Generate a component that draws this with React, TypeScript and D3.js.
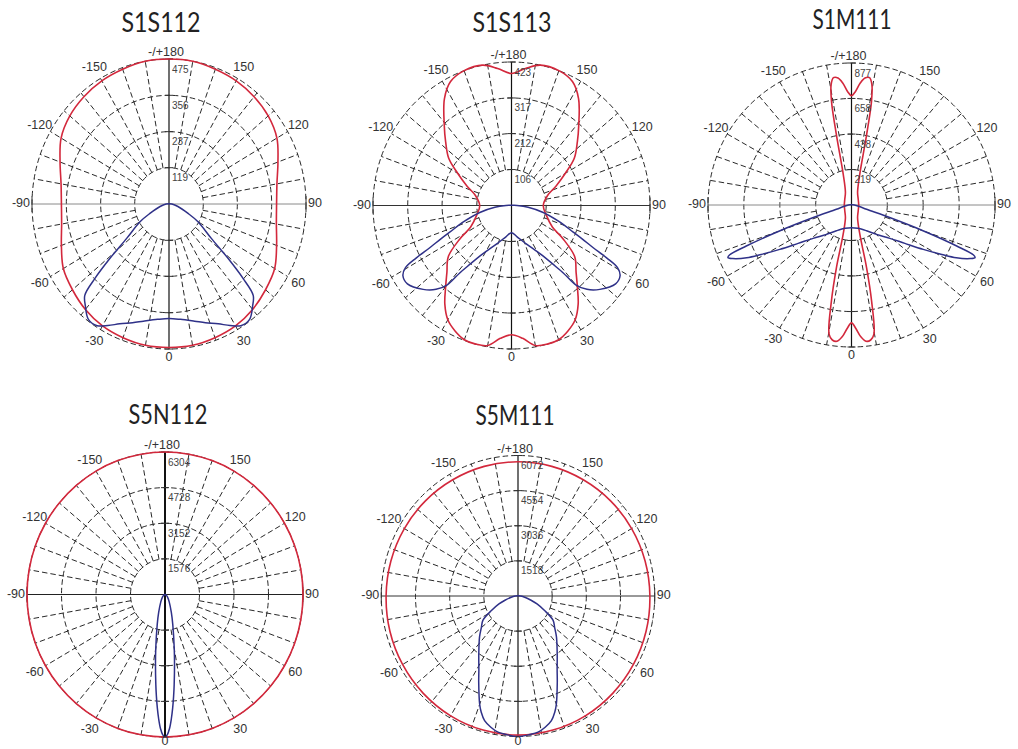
import React from 'react';
import * as d3 from 'd3';

// ---------------- DATA ----------------
// Angle labels (C-plane angle, 0 at bottom, +90 on the right)
const angleLabelValues = [0, 30, 60, 90, 120, 150, 180, -150, -120, -90, -60, -30];
const angleLabelTexts = ['0', '30', '60', '90', '120', '150', '-/+180', '-150', '-120', '-90', '-60', '-30'];

// S1S112
const s1s112Title = 'S1S112';
const s1s112Rings = [119, 237, 356, 475];
const s1s112RedAngles = [0, 10, 20, 30, 40, 50, 60, 70, 80, 90, 100, 110, 120, 130, 140, 150, 160, 170, 180];
const s1s112Red = [470, 470, 466, 461, 451, 437, 423, 397, 378, 373, 380, 402, 432, 449, 459, 466, 470, 475, 475];
const s1s112BlueAngles = [0, 6, 13, 18, 23.5, 28, 32, 36.5, 41, 44.3, 46.5, 49, 52.5, 60, 65, 75, 90, 120, 150, 180];
const s1s112Blue = [375, 380, 394, 409, 428, 451, 470, 470, 442, 418, 354, 271, 185, 116, 73, 32, 10, 2, 1, 1];

// S1S113
const s1s113Title = 'S1S113';
const s1s113Rings = [106, 212, 317, 423];
const s1s113RedAngles = [0, 5, 10, 15, 20, 25, 30, 35, 40, 45, 52, 58, 63, 75, 90, 105, 113, 120, 126, 133, 139, 147, 153, 160, 168, 174, 180];
const s1s113Red = [381, 393, 419, 423, 421, 408, 389, 355, 313, 279, 245, 186, 140, 110, 97, 114, 148, 190, 237, 275, 313, 376, 410, 423, 423, 406, 389];
const s1s113BlueAngles = [0, 10, 22, 30, 33, 36, 38.5, 40, 43, 47.5, 54, 58, 60.5, 62, 63.5, 65.5, 67.5, 72, 78, 84, 90, 100, 120, 180];
const s1s113Blue = [80, 93, 123, 157, 178, 212, 254, 305, 338, 366, 393, 391, 372, 330, 279, 237, 203, 152, 99, 51, 17, 4, 2, 1];

// S1M111
const s1m111Title = 'S1M111';
const s1m111Rings = [219, 438, 658, 877];
const s1m111RedAngles = [0, 2, 4, 6, 8, 9.7, 11.7, 13.4, 15.7, 25, 48, 90, 132, 155, 165, 168, 169.2, 170.5, 172, 174, 176, 178, 180];
const s1m111Red = [728, 763, 816, 846, 842, 811, 605, 397, 189, 88, 55, 44, 55, 88, 193, 447, 653, 754, 794, 789, 754, 702, 675];
const s1m111BlueAngles = [0, 15, 30, 40, 48.7, 54, 58, 61, 63, 65.5, 66.7, 67.5, 68.5, 70, 71.6, 74, 80, 90, 120, 180];
const s1m111Blue = [140, 149, 184, 237, 312, 403, 517, 631, 719, 798, 822, 807, 691, 465, 246, 96, 44, 18, 4, 3];

// S5N112
const s5n112Title = 'S5N112';
const s5n112Rings = [1576, 3152, 4728, 6304];
const s5n112RedAngles = [0, 10, 20, 30, 40, 50, 60, 70, 80, 90, 100, 110, 120, 130, 140, 150, 160, 170, 180];
const s5n112Red = [6304, 6304, 6304, 6304, 6304, 6304, 6304, 6304, 6304, 6304, 6304, 6304, 6304, 6304, 6304, 6304, 6304, 6304, 6304];
const s5n112BlueAngles = [0, 1, 2, 3, 4, 5, 6, 8, 10, 15, 20, 30, 45, 60, 90, 120, 180];
const s5n112Blue = [6304, 6200, 5930, 5515, 5030, 4515, 4010, 3125, 2435, 1370, 845, 390, 165, 80, 5, 2, 1];

// S5M111
const s5m111Title = 'S5M111';
const s5m111Rings = [1518, 3036, 4554, 6072];
const s5m111RedAngles = [0, 15, 30, 45, 60, 75, 90, 105, 120, 135, 150, 165, 180];
const s5m111Red = [6011, 6000, 5981, 5950, 5920, 5890, 5859, 5845, 5829, 5815, 5799, 5799, 5799];
const s5m111BlueAngles = [0, 5, 8.6, 12, 15.4, 18, 20, 25, 28.5, 35, 44, 50, 56, 62, 68, 72.5, 80, 90, 120, 180];
const s5m111Blue = [6072, 6011, 5951, 5799, 5586, 5283, 4979, 4129, 3643, 3036, 2459, 2125, 1882, 1336, 911, 607, 304, 121, 30, 18];

// ---------------- LAYOUT ----------------
const W = 1018;
const H = 749;
const RED = '#d3283c';
const BLUE = '#2f3188';

type Pt = [number, number];

// symmetric photometric curve: data given for 0..180, mirrored to the negative side
function mirror(angles: number[], values: number[]): Pt[] {
  const pts: Pt[] = angles.map((a, i) => [a, values[i]] as Pt);
  for (let i = angles.length - 1; i >= 0; i--) {
    const a = angles[i];
    if (a > 0 && a < 180) pts.push([-a, values[i]]);
  }
  return pts;
}

const panels = [
  { title: s1s112Title, rings: s1s112Rings, red: mirror(s1s112RedAngles, s1s112Red), blue: mirror(s1s112BlueAngles, s1s112Blue) },
  { title: s1s113Title, rings: s1s113Rings, red: mirror(s1s113RedAngles, s1s113Red), blue: mirror(s1s113BlueAngles, s1s113Blue) },
  { title: s1m111Title, rings: s1m111Rings, red: mirror(s1m111RedAngles, s1m111Red), blue: mirror(s1m111BlueAngles, s1m111Blue) },
  { title: s5n112Title, rings: s5n112Rings, red: mirror(s5n112RedAngles, s5n112Red), blue: mirror(s5n112BlueAngles, s5n112Blue) },
  { title: s5m111Title, rings: s5m111Rings, red: mirror(s5m111RedAngles, s5m111Red), blue: mirror(s5m111BlueAngles, s5m111Blue) },
];

const layouts = [
  { cx: 169, cy: 204, rx: 137, ry: 145, tx: 161, ty: 21, axisW: 1.2, hColor: '#8a8a8a' },
  { cx: 511.5, cy: 205.5, rx: 138.5, ry: 143.5, tx: 512, ty: 21, axisW: 1.2, hColor: '#333' },
  { cx: 851.5, cy: 205, rx: 143.5, ry: 142, tx: 852, ty: 18, axisW: 1.2, hColor: '#8a8a8a' },
  { cx: 165, cy: 594.5, rx: 138, ry: 142.5, tx: 168, ty: 413, axisW: 2, hColor: '#222' },
  { cx: 518, cy: 596, rx: 136.7, ry: 140.5, tx: 515, ty: 414, axisW: 1.2, hColor: '#333' },
];

const rad = (a: number) => (a * Math.PI) / 180;

function Panel({ p, l }: { p: typeof panels[number]; l: typeof layouts[number] }) {
  const max = p.rings[p.rings.length - 1];
  const xs = d3.scaleLinear().domain([0, max]).range([0, l.rx]);
  const ys = d3.scaleLinear().domain([0, max]).range([0, l.ry]);
  const px = (a: number, v: number) => l.cx + xs(v) * Math.sin(rad(a));
  const py = (a: number, v: number) => l.cy + ys(v) * Math.cos(rad(a));
  const line = d3
    .line<Pt>()
    .x((d) => px(d[0], d[1]))
    .y((d) => py(d[0], d[1]))
    .curve(d3.curveCatmullRomClosed.alpha(0.5));
  const spokes = d3.range(-170, 180, 10).filter((a) => a % 90 !== 0);
  const inner = p.rings[0];
  const dash = '5.5,3';
  return (
    <g>
      <text x={l.tx} y={l.ty} textAnchor="middle" dominantBaseline="central"
        textLength={79} lengthAdjust="spacingAndGlyphs"
        style={{ fontFamily: 'Lato, "Open Sans", sans-serif', fontSize: 27, fill: '#222' }}>
        {p.title}
      </text>
      {/* rings */}
      {p.rings.map((r, i) => (
        <ellipse key={'r' + i} cx={l.cx} cy={l.cy} rx={xs(r)} ry={ys(r)} fill="none"
          stroke="#111" strokeWidth={0.9} strokeDasharray={dash} />
      ))}
      {/* spokes */}
      {spokes.map((a) => (
        <line key={'s' + a} x1={px(a, inner)} y1={py(a, inner)} x2={px(a, max)} y2={py(a, max)}
          stroke="#111" strokeWidth={0.9} strokeDasharray={dash} />
      ))}
      {/* axes */}
      <line x1={l.cx - l.rx} x2={l.cx + l.rx} y1={l.cy} y2={l.cy} stroke={l.hColor} strokeWidth={1} />
      <line x1={l.cx} x2={l.cx} y1={l.cy - l.ry} y2={l.cy + l.ry} stroke="#111" strokeWidth={l.axisW} />
      <line x1={l.cx - l.rx} x2={l.cx - l.rx} y1={l.cy - 8} y2={l.cy + 8} stroke="#333" strokeWidth={1} />
      <line x1={l.cx + l.rx} x2={l.cx + l.rx} y1={l.cy - 8} y2={l.cy + 8} stroke="#333" strokeWidth={1} />
      {p.rings.map((r, i) => (
        <g key={'t' + i}>
          <line x1={l.cx - 4} x2={l.cx + 4} y1={l.cy - ys(r)} y2={l.cy - ys(r)} stroke="#333" strokeWidth={1} />
          <line x1={l.cx - 4} x2={l.cx + 4} y1={l.cy + ys(r)} y2={l.cy + ys(r)} stroke="#333" strokeWidth={1} />
        </g>
      ))}
      {/* curves */}
      <path d={line(p.red) || ''} fill="none" stroke={RED} strokeWidth={1.6} />
      <path d={line(p.blue) || ''} fill="none" stroke={BLUE} strokeWidth={1.5} />
      {/* ring value labels */}
      {p.rings.map((r, i) => (
        <text key={'v' + i} x={l.cx + 3} y={l.cy - ys(r) + 10} dominantBaseline="central"
          style={{ fontFamily: '"Liberation Sans", Arial, sans-serif', fontSize: 10, fill: '#444' }}>
          {r}
        </text>
      ))}
      {/* angle labels */}
      {angleLabelValues.map((a, i) => {
        let x: number, y: number, anchor: 'start' | 'middle' | 'end' = 'middle';
        if (a === 90) { x = l.cx + l.rx + 2; y = l.cy - 1; anchor = 'start'; }
        else if (a === -90) { x = l.cx - l.rx - 2; y = l.cy - 1; anchor = 'end'; }
        else if (a === 0) { x = l.cx; y = Math.min(l.cy + l.ry + 8, H - 8); }
        else if (a === 180) { x = l.cx - 3; y = l.cy - l.ry - 7; }
        else { x = l.cx + l.rx * 1.09 * Math.sin(rad(a)); y = l.cy + l.ry * 1.09 * Math.cos(rad(a)); }
        return (
          <text key={'a' + i} x={x} y={y} textAnchor={anchor} dominantBaseline="central"
            style={{ fontFamily: '"Liberation Sans", Arial, sans-serif', fontSize: 12.5, fill: '#333' }}>
            {angleLabelTexts[i]}
          </text>
        );
      })}
    </g>
  );
}

export default function App() {
  return (
    <svg width={W} height={H} viewBox={`0 0 ${W} ${H}`}
      style={{ position: 'absolute', left: 0, top: 0, display: 'block', background: '#fff' }}>
      <rect x={0} y={0} width={W} height={H} fill="#fff" />
      {panels.map((p, i) => (
        <Panel key={i} p={p} l={layouts[i]} />
      ))}
    </svg>
  );
}
